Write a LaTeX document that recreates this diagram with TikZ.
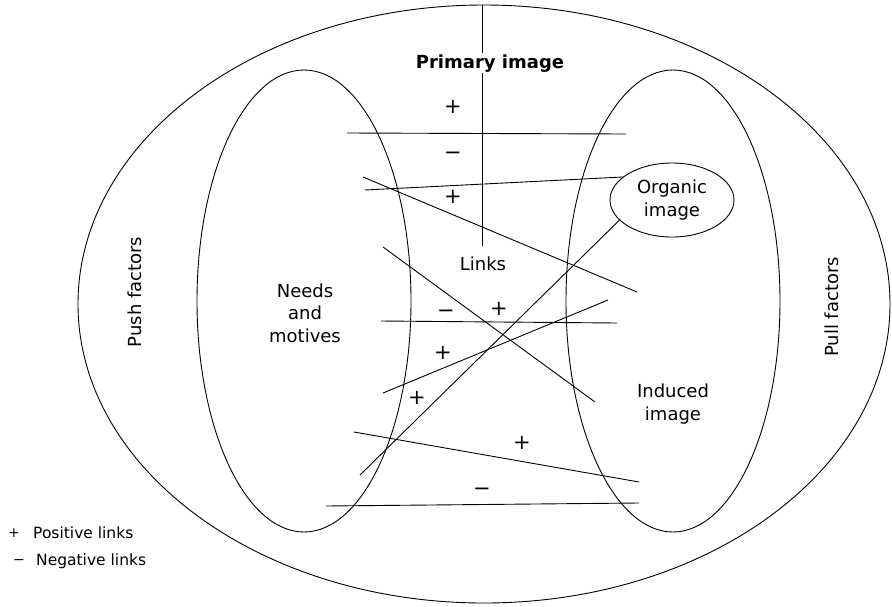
\documentclass[tikz,border=0pt]{standalone}
\usepackage{fontspec}
\setmainfont{DejaVu Sans}
\usepackage{tikz}
\usetikzlibrary{calc,positioning,shapes.geometric}

\begin{document}
\begin{tikzpicture}[x=1pt,y=-1pt]
    \tikzset{region/.style={draw, ellipse, inner sep=0pt, line width=0.9pt},
        caption/.style={font=\fontsize{18}{22.5}\selectfont, align=center, inner sep=0pt},
        sign/.style={font=\fontsize{21}{21}\selectfont, anchor=base, inner sep=0pt, yshift=-6.7pt},
        keysign/.style={font=\fontsize{14}{14}\selectfont, anchor=base, inner sep=0pt, yshift=-4.4pt},
        keytext/.style={font=\fontsize{15.5}{18}\selectfont, anchor=west, inner sep=0pt},
        link/.style={line width=0.9pt},}
    \useasboundingbox (0,0) rectangle (892,606);
    % regions
    \node[region, minimum width=812pt, minimum height=598pt] (outer) at (484,304) {};
    \node[region, minimum width=214pt, minimum height=462pt] (needs) at (304,301) {};
    \node[region, minimum width=214pt, minimum height=462pt] (induced) at (673,301) {};
    \node[region, caption, minimum width=124pt, minimum height=74pt] (organic) at (672,200) {Organic\\image};
    % link ends
    \coordinate (stem) at (482,246);
    \coordinate (a1) at (347,133);  \coordinate (b1) at (626,134);
    \coordinate (a2) at (365,190);
    \coordinate (a3) at (363,177);  \coordinate (b3) at (637,292);
    \coordinate (a4) at (383,247);  \coordinate (b4) at (595,402);
    \coordinate (b5) at (360,475);
    \coordinate (a6) at (381,321);  \coordinate (b6) at (617,323);
    \coordinate (a7) at (383,393);  \coordinate (b7) at (608,300);
    \coordinate (a8) at (354,432);  \coordinate (b8) at (639,482);
    \coordinate (a9) at (326,506);  \coordinate (b9) at (639,503);
    % links
    \draw[link] (stem |- outer.north) -- (stem);
    \draw[link] (a1) -- (b1);
    \draw[link] (a2) -- (organic.155);
    \draw[link] (a3) -- (b3);
    \draw[link] (a4) -- (b4);
    \draw[link] (organic.201) -- (b5);
    \draw[link] (a6) -- (b6);
    \draw[link] (a7) -- (b7);
    \draw[link] (a8) -- (b8);
    \draw[link] (a9) -- (b9);
    % texts
    \node[caption, font=\fontsize{18}{22.5}\selectfont\bfseries, fill=white, inner sep=1.5pt, anchor=base] (primary) at (490,68) {Primary image};
    \node[caption] (links) at (483,264) {Links};
    \node[caption] (motives) at (305,313) {Needs\\and\\motives};
    \node[caption] (induc) at (673,404) {Induced\\image};
    \node[caption, rotate=90] (push) at (135,292) {Push factors};
    \node[caption, rotate=90] (pull) at (832,307) {Pull factors};
    % signs
    \node[sign] (s1) at (453,107) {+};
    \node[sign] (s2) at (453,153) {−};
    \node[sign] (s3) at (453,197) {+};
    \node[sign] (s4) at (446,311) {−};
    \node[sign] (s5) at (499,309) {+};
    \node[sign] (s6) at (443,353) {+};
    \node[sign] (s7) at (417,398) {+};
    \node[sign] (s8) at (522,443) {+};
    \node[sign] (s9) at (482,489) {−};
    % key
    \node[keysign] (keyplus) at (14,533) {+};
    \node[keysign] (keyminus) at (19,560) {−};
    \node[keytext] (poskey) at (33,533) {Positive links};
    \node[keytext] (negkey) at (36,561) {Negative links};
\end{tikzpicture}
\end{document}
